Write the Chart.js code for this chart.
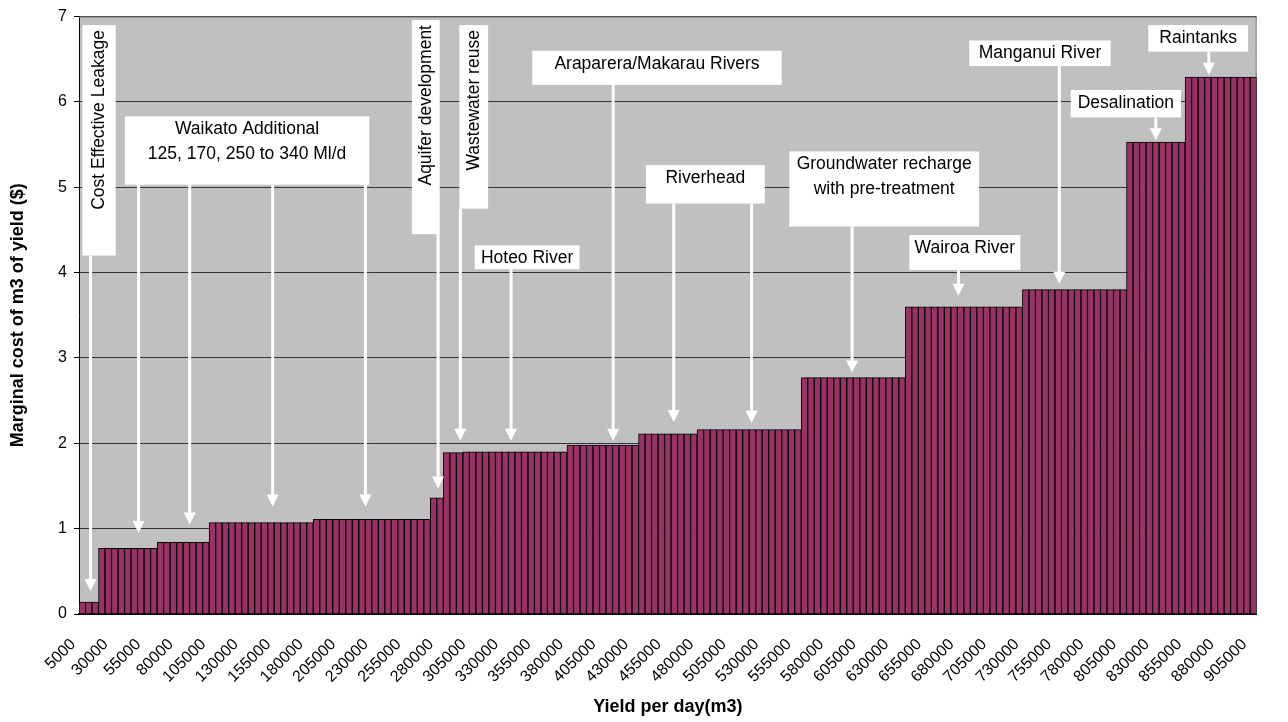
<!DOCTYPE html>
<html>
<head>
<meta charset="utf-8">
<script src="https://cdn.jsdelivr.net/npm/chart.js@4.4.0/dist/chart.umd.min.js"></script>
<style>
  html, body { margin: 0; padding: 0; background: #fff; }
  #wrap { width: 1288px; height: 722px; }
</style>
</head>
<body>
<div id="wrap"><canvas id="costChart" width="1288" height="722"></canvas></div>
<script>
// yield per day (m3), one bar every 5000
var categories = [
  5000, 10000, 15000, 20000, 25000, 30000, 35000, 40000, 45000, 50000,
  55000, 60000, 65000, 70000, 75000, 80000, 85000, 90000, 95000, 100000,
  105000, 110000, 115000, 120000, 125000, 130000, 135000, 140000, 145000, 150000,
  155000, 160000, 165000, 170000, 175000, 180000, 185000, 190000, 195000, 200000,
  205000, 210000, 215000, 220000, 225000, 230000, 235000, 240000, 245000, 250000,
  255000, 260000, 265000, 270000, 275000, 280000, 285000, 290000, 295000, 300000,
  305000, 310000, 315000, 320000, 325000, 330000, 335000, 340000, 345000, 350000,
  355000, 360000, 365000, 370000, 375000, 380000, 385000, 390000, 395000, 400000,
  405000, 410000, 415000, 420000, 425000, 430000, 435000, 440000, 445000, 450000,
  455000, 460000, 465000, 470000, 475000, 480000, 485000, 490000, 495000, 500000,
  505000, 510000, 515000, 520000, 525000, 530000, 535000, 540000, 545000, 550000,
  555000, 560000, 565000, 570000, 575000, 580000, 585000, 590000, 595000, 600000,
  605000, 610000, 615000, 620000, 625000, 630000, 635000, 640000, 645000, 650000,
  655000, 660000, 665000, 670000, 675000, 680000, 685000, 690000, 695000, 700000,
  705000, 710000, 715000, 720000, 725000, 730000, 735000, 740000, 745000, 750000,
  755000, 760000, 765000, 770000, 775000, 780000, 785000, 790000, 795000, 800000,
  805000, 810000, 815000, 820000, 825000, 830000, 835000, 840000, 845000, 850000,
  855000, 860000, 865000, 870000, 875000, 880000, 885000, 890000, 895000, 900000,
  905000
];

// marginal cost ($ per m3), one value per bar
var costs = [
  0.14, 0.14, 0.14,
  0.77, 0.77, 0.77, 0.77, 0.77, 0.77, 0.77, 0.77, 0.77,
  0.84, 0.84, 0.84, 0.84, 0.84, 0.84, 0.84, 0.84,
  1.07, 1.07, 1.07, 1.07, 1.07, 1.07, 1.07, 1.07, 1.07, 1.07, 1.07, 1.07, 1.07, 1.07, 1.07, 1.07,
  1.11, 1.11, 1.11, 1.11, 1.11, 1.11, 1.11, 1.11, 1.11, 1.11, 1.11, 1.11, 1.11, 1.11, 1.11, 1.11, 1.11, 1.11,
  1.36, 1.36,
  1.89, 1.89, 1.89,
  1.90, 1.90, 1.90, 1.90, 1.90, 1.90, 1.90, 1.90, 1.90, 1.90, 1.90, 1.90, 1.90, 1.90, 1.90, 1.90,
  1.98, 1.98, 1.98, 1.98, 1.98, 1.98, 1.98, 1.98, 1.98, 1.98, 1.98,
  2.11, 2.11, 2.11, 2.11, 2.11, 2.11, 2.11, 2.11, 2.11,
  2.16, 2.16, 2.16, 2.16, 2.16, 2.16, 2.16, 2.16, 2.16, 2.16, 2.16, 2.16, 2.16, 2.16, 2.16, 2.16,
  2.77, 2.77, 2.77, 2.77, 2.77, 2.77, 2.77, 2.77, 2.77, 2.77, 2.77, 2.77, 2.77, 2.77, 2.77, 2.77,
  3.60, 3.60, 3.60, 3.60, 3.60, 3.60, 3.60, 3.60, 3.60, 3.60, 3.60, 3.60, 3.60, 3.60, 3.60, 3.60, 3.60, 3.60,
  3.80, 3.80, 3.80, 3.80, 3.80, 3.80, 3.80, 3.80, 3.80, 3.80, 3.80, 3.80, 3.80, 3.80, 3.80, 3.80,
  5.53, 5.53, 5.53, 5.53, 5.53, 5.53, 5.53, 5.53, 5.53,
  6.29, 6.29, 6.29, 6.29, 6.29, 6.29, 6.29, 6.29, 6.29, 6.29, 6.29
];

// x labels that are printed
var tickLabels = [
  5000, 30000, 55000, 80000, 105000, 130000, 155000, 180000, 205000, 230000,
  255000, 280000, 305000, 330000, 355000, 380000, 405000, 430000, 455000, 480000,
  505000, 530000, 555000, 580000, 605000, 630000, 655000, 680000, 705000, 730000,
  755000, 780000, 805000, 830000, 855000, 880000, 905000
];

// callouts: box = [first bar idx, last bar idx, top value, bottom value], arrows = [bar idx, tip value]
var annotations = [
  { text: ['Cost Effective Leakage'], vertical: true, box: [0.01, 5.14, 6.90, 4.20], arrows: [[1.27, 0.27]] },
  { text: ['Waikato Additional', '125, 170, 250 to 340 Ml/d'], box: [6.55, 44.12, 5.83, 5.03],
    arrows: [[8.66, 0.95], [16.51, 1.05], [29.26, 1.26], [43.52, 1.26]] },
  { text: ['Aquifer development'], vertical: true, box: [50.66, 54.94, 6.96, 4.45], arrows: [[54.69, 1.47]] },
  { text: ['Wastewater reuse'], vertical: true, box: [57.96, 62.38, 6.90, 4.75], arrows: [[58.11, 2.03]] },
  { text: ['Hoteo River'], box: [60.32, 76.42, 4.32, 4.04], arrows: [[65.9, 2.03]] },
  { text: ['Araparera/Makarau Rivers'], box: [69.17, 107.5, 6.60, 6.20], arrows: [[81.6, 2.03]] },
  { text: ['Riverhead'], box: [86.63, 104.9, 5.26, 4.81], arrows: [[90.91, 2.25], [102.87, 2.24]] },
  { text: ['Groundwater recharge', 'with pre-treatment'], box: [108.67, 137.84, 5.42, 4.54], arrows: [[118.33, 2.83]] },
  { text: ['Wairoa River'], box: [127.12, 144.18, 4.44, 4.03], arrows: [[134.67, 3.73]] },
  { text: ['Manganui River'], box: [136.33, 158.06, 6.72, 6.42], arrows: [[150.17, 3.87]] },
  { text: ['Desalination'], box: [151.92, 168.88, 6.14, 5.82], arrows: [[165.0, 5.55]] },
  { text: ['Raintanks'], box: [163.84, 179.19, 6.90, 6.59], arrows: [[173.15, 6.32]] }
];

var FONT = '"Liberation Sans", Arial, sans-serif';
Chart.defaults.font.family = FONT;
Chart.defaults.color = '#000';

var plotFrame = {
  id: 'plotFrame',
  beforeDraw: function (chart) {
    var a = chart.chartArea, c = chart.ctx;
    c.save();
    c.fillStyle = '#c0c0c0';
    c.fillRect(a.left, a.top, a.right - a.left, a.bottom - a.top);
    c.restore();
  },
  beforeDatasetsDraw: function (chart) {
    var a = chart.chartArea, c = chart.ctx;
    c.save();
    c.strokeStyle = '#808080';
    c.lineWidth = 1;
    c.beginPath();
    c.moveTo(a.left, a.top + 0.5);
    c.lineTo(a.right - 0.5, a.top + 0.5);
    c.lineTo(a.right - 0.5, a.bottom);
    c.stroke();
    c.restore();
  }
};

var callouts = {
  id: 'callouts',
  afterDatasetsDraw: function (chart) {
    var xs = chart.scales.x, ys = chart.scales.y, c = chart.ctx;
    c.save();
    annotations.forEach(function (a) {
      var left = xs.getPixelForValue(a.box[0]);
      var right = xs.getPixelForValue(a.box[1]);
      var top = ys.getPixelForValue(a.box[2]);
      var bottom = ys.getPixelForValue(a.box[3]);

      c.strokeStyle = '#fff';
      c.fillStyle = '#fff';
      c.lineWidth = 3;
      a.arrows.forEach(function (ar) {
        var ax = xs.getPixelForValue(ar[0]);
        var tip = ys.getPixelForValue(ar[1]);
        c.beginPath();
        c.moveTo(ax, bottom);
        c.lineTo(ax, tip - 10);
        c.stroke();
        c.beginPath();
        c.moveTo(ax - 6, tip - 12);
        c.lineTo(ax + 6, tip - 12);
        c.lineTo(ax, tip);
        c.closePath();
        c.fill();
      });

      c.fillRect(left, top, right - left, bottom - top);
      c.fillStyle = '#000';
      c.font = '17.5px ' + FONT;
      if (a.vertical) {
        c.save();
        c.translate((left + right) / 2, top + 5);
        c.rotate(-Math.PI / 2);
        c.textAlign = 'right';
        c.textBaseline = 'middle';
        c.fillText(a.text[0], 0, 0);
        c.restore();
      } else {
        c.textAlign = 'center';
        c.textBaseline = 'middle';
        a.text.forEach(function (t, k) {
          c.fillText(t, (left + right) / 2, top + 13 + k * 24.5);
        });
      }
    });
    c.restore();
  }
};

var ctx = document.getElementById('costChart').getContext('2d');
var costChart = new Chart(ctx, {
  type: 'bar',
  data: {
    labels: categories,
    datasets: [{
      label: 'Marginal cost',
      data: costs,
      backgroundColor: '#993366',
      borderColor: '#000',
      borderWidth: 1,
      categoryPercentage: 1,
      barPercentage: 1
    }]
  },
  options: {
    responsive: false,
    animation: false,
    devicePixelRatio: 1,
    layout: { padding: { top: 15, right: 9, left: 0, bottom: 0 } },
    plugins: {
      legend: { display: false },
      tooltip: { enabled: false }
    },
    scales: {
      x: {
        ticks: {
          autoSkip: false,
          maxRotation: 45,
          minRotation: 45,
          padding: 21,
          labelOffset: -9,
          color: '#000',
          font: { size: 16 },
          callback: function (v, i) {
            return tickLabels.indexOf(categories[i]) >= 0 ? String(categories[i]) : '';
          }
        },
        grid: { display: false, drawTicks: false },
        border: { display: true, color: '#000', width: 2 },
        title: {
          display: true,
          text: 'Yield per day(m3)',
          color: '#000',
          font: { size: 18, weight: 'bold' },
          padding: { top: 0, bottom: 4 }
        },
        afterFit: function (s) { s.height = 108; }
      },
      y: {
        min: 0,
        max: 7,
        ticks: { stepSize: 1, color: '#000', padding: 7, font: { size: 16 } },
        grid: { color: '#333', tickColor: '#000', tickLength: 5 },
        border: { display: true, color: '#000', width: 1 },
        title: {
          display: true,
          text: 'Marginal cost of m3 of yield ($)',
          color: '#000',
          font: { size: 18, weight: 'bold' },
          padding: { top: 7, bottom: 0 }
        },
        afterFit: function (s) { s.width = 79; }
      }
    }
  },
  plugins: [plotFrame, callouts]
});
</script>
</body>
</html>
